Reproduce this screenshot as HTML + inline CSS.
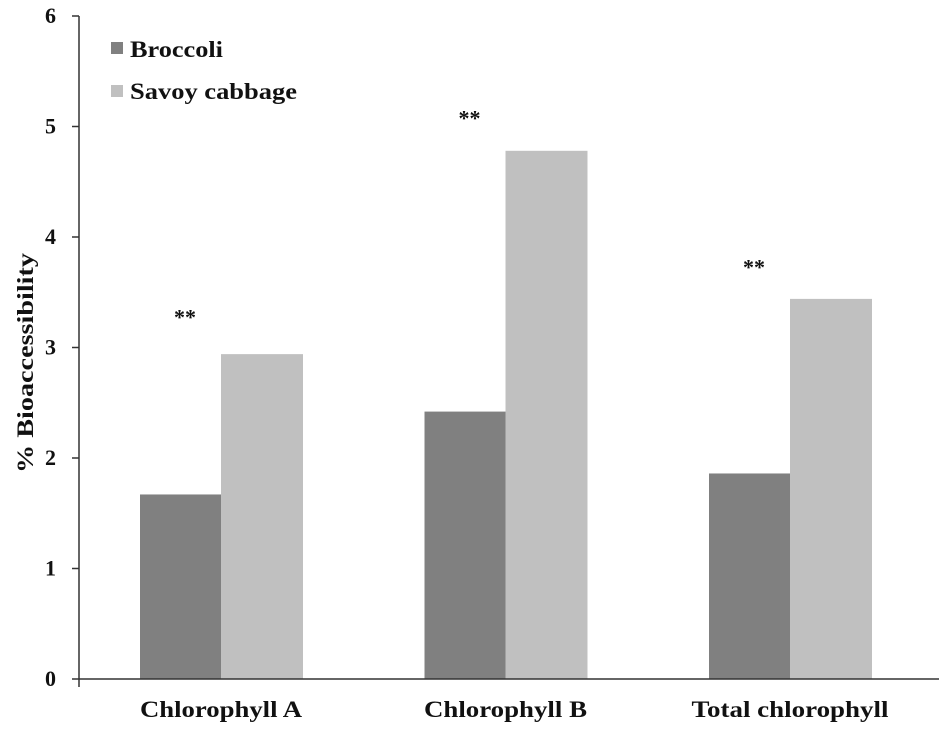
<!DOCTYPE html>
<html><head><meta charset="utf-8"><style>
body{margin:0;background:#fff}
svg text{font-family:"Liberation Serif",serif;font-weight:bold;fill:#111}
</style></head><body>
<svg width="939" height="727">
<g id="g"></g>
</svg>
<script>
const categories=["Chlorophyll A","Chlorophyll B","Total chlorophyll"];
const broccoli=[1.67,2.42,1.86];
const savoy=[2.94,4.78,3.44];
const yTicks=[0,1,2,3,4,5,6];
const sig=["**","**","**"];
const sigY=[3.3,5.1,3.75];
const ns="http://www.w3.org/2000/svg";
const g=document.getElementById('g');
const y0=679,pu=110.5,x0=79;
const y=v=>y0-v*pu;
const catW=284.5;
const cx=i=>x0+142+catW*i;
const labW=[162,163,197];
function mk(t,a,txt){const e=document.createElementNS(ns,t);for(const k in a)e.setAttribute(k,a[k]);if(txt!==undefined)e.textContent=txt;g.appendChild(e);return e;}
categories.forEach((c,i)=>{
 const b=mk('rect',{x:cx(i)-81,y:y(broccoli[i]),width:81,height:broccoli[i]*pu,fill:'#808080'});
 
 
 const s=mk('rect',{x:cx(i),y:y(savoy[i]),width:82,height:savoy[i]*pu,fill:'#c0c0c0'});
 
 
 const l=mk('text',{x:cx(i),y:717,'text-anchor':'middle','font-size':23,textLength:labW[i],lengthAdjust:'spacingAndGlyphs'},c);
 
 
 const st=mk('text',{x:cx(i)-36,y:y(sigY[i])+10,'text-anchor':'middle','font-size':22,'font-weight':'normal'},sig[i]);
 
 
});
mk('line',{x1:x0,y1:y(6),x2:x0,y2:y0+8,stroke:'#333','stroke-width':1.5});
mk('line',{x1:x0,y1:y0,x2:939,y2:y0,stroke:'#333','stroke-width':1.5});
yTicks.forEach(t=>{
 mk('line',{x1:72,y1:y(t),x2:x0,y2:y(t),stroke:'#333','stroke-width':1.5});
 const e=mk('text',{x:56,y:y(t)+7,'text-anchor':'end','font-size':22},t);
 
 
});
const yt=mk('text',{x:0,y:0,'text-anchor':'middle','font-size':23,textLength:220,lengthAdjust:'spacingAndGlyphs',transform:'translate(33,363) rotate(-90)'},'% Bioaccessibility');


mk('rect',{x:111,y:42,width:12,height:12,fill:'#808080'});
mk('rect',{x:111,y:85,width:12,height:12,fill:'#c0c0c0'});
const l1=mk('text',{x:130,y:57,'font-size':23,textLength:93,lengthAdjust:'spacingAndGlyphs'},'Broccoli');


const l2=mk('text',{x:130,y:99,'font-size':23,textLength:167,lengthAdjust:'spacingAndGlyphs'},'Savoy cabbage');


</script>
</body></html>
